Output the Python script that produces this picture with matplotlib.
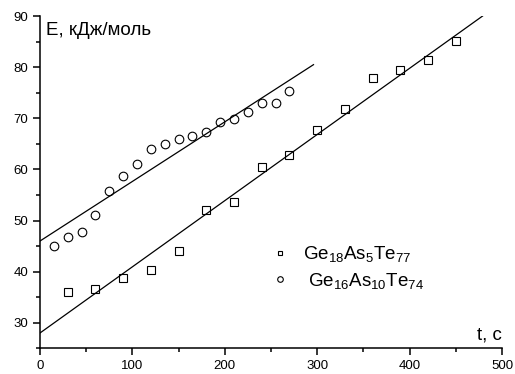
import matplotlib.pyplot as plt
import numpy as np
from matplotlib.ticker import MultipleLocator

plt.rcParams['font.family'] = ['Liberation Sans', 'DejaVu Sans']
plt.rcParams['mathtext.fontset'] = 'custom'
plt.rcParams['mathtext.rm'] = 'Liberation Sans'
plt.rcParams['mathtext.it'] = 'Liberation Sans'

# Ge18As5Te77 (squares)
t_sq = [30, 60, 90, 120, 150, 180, 210, 240, 270, 300, 330, 360, 390, 420, 450]
e_sq = [36.1, 36.7, 38.7, 40.4, 44.0, 52.0, 53.6, 60.4, 62.9, 67.8, 71.9, 78.0, 79.4, 81.4, 85.1]

# Ge16As10Te74 (circles)
t_ci = [15, 30, 45, 60, 75, 90, 105, 120, 135, 150, 165, 180, 195, 210, 225, 240, 255, 270]
e_ci = [45.0, 46.7, 47.8, 51.0, 55.8, 58.8, 61.1, 64.0, 65.0, 66.0, 66.6, 67.3, 69.3, 69.8,
        71.3, 73.1, 73.0, 75.4]

# linear fits: intercept, slope, t range
fit_sq = (28.0, 0.1295, 0, 479)
fit_ci = (46.0, 0.1166, 0, 296)

labels = [r'Ge$_{18}$As$_{5}$Te$_{77}$', r' Ge$_{16}$As$_{10}$Te$_{74}$']

fig = plt.figure(figsize=(5.15, 3.74), dpi=100)
ax = fig.add_axes([0.0777, 0.0687, 0.897, 0.888])

for (b, k, t0, t1) in (fit_sq, fit_ci):
    tt = np.array([t0, t1])
    ax.plot(tt, b + k * tt, color='black', lw=0.9)

h1, = ax.plot(t_sq, e_sq, ls='none', marker='s', ms=5.5, mfc='none', mec='black', mew=0.8)
h2, = ax.plot(t_ci, e_ci, ls='none', marker='o', ms=6.2, mfc='none', mec='black', mew=0.8)

ax.set_xlim(0, 500)
ax.set_ylim(25, 90)
ax.spines['top'].set_visible(False)
ax.spines['right'].set_visible(False)
for s in ('left', 'bottom'):
    ax.spines[s].set_linewidth(1.1)
ax.xaxis.set_major_locator(MultipleLocator(100))
ax.xaxis.set_minor_locator(MultipleLocator(50))
ax.yaxis.set_minor_locator(MultipleLocator(5))
ax.set_yticks([30, 40, 50, 60, 70, 80, 90])
ax.tick_params(which='major', length=5, width=1.1, labelsize=9.5, direction='out')
ax.tick_params(which='minor', length=3, width=1.1, direction='out')

ax.text(0.013, 0.958, 'E, кДж/моль', transform=ax.transAxes, fontsize=13.5,
        ha='left', va='center')
ax.text(1.0, 0.027, 't, c', transform=ax.transAxes, fontsize=13.5,
        ha='right', va='baseline')

ax.legend([h1, h2], labels, loc='upper left', bbox_to_anchor=(0.463, 0.364),
          frameon=False, markerscale=0.65, fontsize=13.5, handlelength=1.0,
          handletextpad=0.73, labelspacing=0.35)

fig.savefig('out.png', dpi=100)
